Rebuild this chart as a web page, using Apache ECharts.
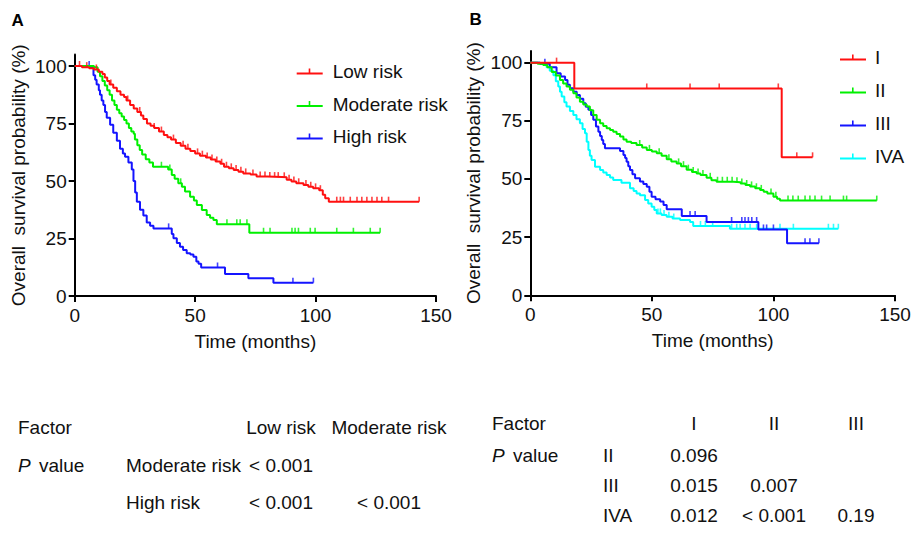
<!DOCTYPE html>
<html>
<head>
<meta charset="utf-8">
<title>Overall survival</title>
<script src="https://cdn.jsdelivr.net/npm/echarts@6/dist/echarts.min.js"></script>
<style>
  html, body { margin: 0; padding: 0; background: #fff; }
  #chart { width: 912px; height: 533px; }
</style>
</head>
<body>
<div id="chart"></div>
<script>
// ---- panel A : risk groups (time in months, survival in %) ----
var lowRiskTime = [0, 3, 6, 8, 10, 11.5, 12.5, 13.5, 14.5, 16, 17.5, 19, 20.5, 21.5, 23, 24.5, 26, 27.5, 28.5, 30,
  31.5, 33, 35, 37, 38.5, 40, 42, 44, 46, 48, 50, 52, 54.5, 56.5, 58.5, 60.5, 62, 64, 66, 68, 70, 73, 75.5, 80,
  86, 88, 90, 92, 95, 97, 99, 101.5, 103, 104, 105.5, 143];
var lowRiskSurv = [100, 99.5, 99, 98.5, 97.5, 96.5, 95, 93.5, 92, 90.5, 89, 87.5, 86.5, 85, 83, 81.5, 80, 78.5, 77, 75,
  74, 73, 71.5, 70, 69, 68, 66.5, 65.3, 64, 63, 62, 61, 60.2, 59.3, 58.5, 57.5, 56.2, 55.5, 54.8, 54, 53.3, 52.8, 52, 51.7,
  51.6, 50.5, 49.8, 49, 48.3, 47.5, 46.8, 46, 44, 42.5, 41, 41];
var lowRiskCensor = [2, 5, 9, 15, 22, 27, 33, 36, 41, 45, 47, 51, 53, 55, 57, 59, 61, 63, 65, 67, 69, 71, 74, 77, 79,
  81, 83, 84.5, 87, 89, 91, 93, 96, 98, 100, 102, 108.8, 110.3, 111.6, 114.4, 117.2, 119.2, 121.3, 123.4, 125.5,
  127.5, 130.3, 143];

var modRiskTime = [0, 8, 9.5, 10.5, 11.5, 12.5, 13.5, 14.5, 15.5, 16.5, 17.5, 18.5, 19.5, 20.5, 21.5, 22.5, 23.5, 24.5,
  25, 26, 27, 28, 29.5, 31, 32.5, 38.8, 40.3, 41.5, 43, 44.5, 45.8, 47.9, 49.5, 50.7, 52.8, 54.8, 56.2, 57.6, 59,
  72.5, 126.8];
var modRiskSurv = [100, 99.5, 97.5, 95.5, 93.5, 91.5, 89.5, 87.5, 85, 83, 81, 79.5, 78, 76.5, 75, 73, 71.5, 70.5,
  68, 65.5, 63.5, 61.5, 59.5, 58, 56.2, 55, 52.6, 51, 49, 47.5, 45.4, 43.2, 41.5, 39.6, 37.4, 35.2, 34, 33, 31.2,
  27.5, 27.5];
var modRiskCensor = [36, 39.5, 44, 63.2, 67.3, 68.7, 71.5, 78.4, 81.1, 90.2, 91.5, 92.9, 97.8, 99.8, 108.8, 115.7,
  122.7, 126.8];

var highRiskTime = [0, 6.4, 7.8, 8.5, 9.1, 10, 10.5, 11.2, 11.9, 12.6, 13.3, 14.7, 16, 17.5, 18.8, 20, 20.9, 22.3,
  23.7, 24.4, 25.1, 25.8, 27.1, 28.5, 29.9, 31.3, 32.7, 40.3, 41, 42.4, 43.7, 45, 46.5, 48, 49.3, 50.5, 51.4, 52.5,
  62.4, 72.1, 82.5, 99.1];
var highRiskSurv = [100, 99.5, 96, 94, 92, 89.5, 87.5, 85, 83, 80, 77.5, 74.5, 71, 67.5, 64, 62, 60.5, 58,
  55, 50, 45, 41, 37.5, 35, 32, 30.5, 29.4, 27, 25.1, 23, 21.4, 20, 18.6, 18, 17.1, 15, 14, 12.4,
  9.6, 7.7, 5.8, 5.8];
var highRiskCensor = [6, 39, 59.3, 90.6, 99.1];

// ---- panel B : stages ----
var stage1Time = [0, 18.1, 103.4, 116.1];
var stage1Surv = [100, 88.9, 59.3, 59.3];
var stage1Censor = [10.8, 47.9, 65.7, 77.7, 102, 109.6, 116.1];

var stage2Time = [0, 3, 5.3, 7, 8.8, 10.5, 12.2, 13.5, 14.9, 16.3, 17.7, 19, 20.4, 21.8, 23.2, 24.5, 25.9, 27.3,
  28.7, 30, 31.4, 32.8, 34.1, 35.5, 36.9, 38.3, 39.6, 41.5, 43.7, 46, 47.9, 50, 52, 54, 56.1, 58, 60.2, 62, 64.3,
  66.5, 68.4, 70, 72.5, 74.5, 76.6, 83.5, 86.5, 88.5, 90.4, 92.5, 94.5, 96, 97.5, 100, 101.5, 102.7, 142.5];
var stage2Surv = [100, 99.5, 99, 98, 96, 94.5, 92.5, 91, 89.7, 88.3, 86.8, 85, 83.2, 82, 81.1, 79.5, 77.5, 75.5,
  73.9, 72.8, 71.8, 71, 70.3, 69.3, 68.2, 67, 66, 65.5, 64.6, 63.5, 62.5, 61.8, 61, 60, 58.5, 57.5, 56.7, 55.5, 54,
  53, 52.4, 51.7, 50.5, 49.5, 48.8, 48.6, 48, 47.4, 46.8, 46, 45.3, 44.5, 43.8, 42.4, 41.5, 40.7, 40.7];
var stage2Censor = [45, 49, 53, 57, 61, 63, 65, 67, 69, 71, 74, 77, 79, 81, 83, 85, 87, 89, 91, 93, 95, 99, 101,
  106, 108, 110.2, 113, 115, 117.1, 119.8, 123.3, 128.8, 130.1, 142.5];

var stage3Time = [0, 4, 8, 10.8, 12.5, 14.3, 15.3, 16.3, 17.7, 19.1, 20.4, 21.8, 22.8, 23.9, 25, 25.9, 27, 28, 28.7,
  29.4, 30, 30.7, 36.9, 38.3, 39, 39.6, 40.3, 41, 42, 43.1, 45.1, 46.5, 47.9, 49, 49.9, 51.5, 53.4, 54.8, 56.1,
  62.3, 72.5, 93.8, 105.6, 118.7];
var stage3Surv = [100, 99.5, 98, 95.4, 94, 92.5, 90.5, 89, 87.5, 86.1, 84.5, 82.5, 81, 79.7, 77.5, 75.4, 72.5, 70.3, 68.5,
  66.8, 65, 63.2, 62, 60.3, 59, 57.4, 55.5, 53.9, 52, 50.3, 48.9, 47.8, 46.7, 44.5, 42.4, 41.3, 40.3, 38.8, 37,
  34.1, 31.5, 28.3, 22.4, 22.4];
var stage3Censor = [6, 65.7, 67.8, 82.8, 87, 88.3, 89.7, 91.1, 93.1, 95.9, 97.2, 100, 113, 115, 118.7];

var stage4Time = [0, 4, 6.7, 8, 9.5, 10.5, 11.5, 12.2, 12.9, 14, 14.9, 16.3, 17.7, 19, 20.4, 21.5, 22.5, 23.2, 23.9,
  24.5, 25.2, 26.6, 28.7, 30, 31.4, 32.8, 34.1, 37.5, 41, 42.5, 43.7, 45.1, 47.2, 48.5, 49.9, 51, 52, 54, 56.1,
  58.5, 61.6, 65.7, 67, 82.1, 126.7];
var stage4Surv = [100, 99.5, 98, 96.5, 94.6, 92, 89.7, 87.5, 85.4, 83, 81.1, 79.2, 77.5, 75.7, 73.9, 71.5, 69.6, 66, 62.5,
  60, 58.2, 55.3, 53.9, 52.8, 51.7, 50.6, 49.6, 48.4, 46, 44.8, 43.8, 43, 41, 39.5, 38.1, 36.7, 35.2, 34.5, 33.8,
  33, 32.4, 31.5, 29.8, 28.6, 28.6];
var stage4Censor = [52.5, 53.5, 55, 57, 59, 70, 72, 75, 82.8, 84.9, 86.3, 88.3, 90.4, 93.1, 102.7, 108.2, 122.6,
  124.7, 126.7];

// ---- axes and tables ----
var xTicks = [0, 50, 100, 150];
var yTicks = [0, 25, 50, 75, 100];

var tableACols = ['Low risk', 'Moderate risk'];
var tableARows = ['Moderate risk', 'High risk'];
var tableAValues = [['< 0.001', ''], ['< 0.001', '< 0.001']];

var tableBCols = ['I', 'II', 'III'];
var tableBRows = ['II', 'III', 'IVA'];
var tableBValues = [['0.096', '', ''], ['0.015', '0.007', ''], ['0.012', '< 0.001', '0.19']];

var FONT = '"Liberation Sans", Arial, Helvetica, sans-serif';
var TXT = '#111';

function survAt(time, surv, t) {
  var s = surv[0];
  for (var i = 0; i < time.length; i++) {
    if (time[i] <= t) s = surv[i];
  }
  return s;
}

function zip(a, b) {
  return a.map(function (v, i) { return [v, b[i]]; });
}

// one KM curve = step line + scatter of censor ticks
function kmSeries(name, color, time, surv, censor, idx, z) {
  return [{
    name: name,
    type: 'line',
    step: 'end',
    xAxisIndex: idx,
    yAxisIndex: idx,
    data: zip(time, surv),
    showSymbol: false,
    symbol: 'none',
    color: color,
    lineStyle: { color: color, width: 2 },
    z: z,
    silent: true
  }, {
    name: name,
    type: 'scatter',
    xAxisIndex: idx,
    yAxisIndex: idx,
    data: censor.map(function (t) { return [t, survAt(time, surv, t)]; }),
    symbol: 'rect',
    symbolSize: [1.6, 5],
    symbolOffset: [0, -2.5],
    itemStyle: { color: color },
    z: z,
    silent: true
  }];
}

function xAxisOpt(idx) {
  return {
    type: 'value',
    gridIndex: idx,
    min: 0,
    max: 150,
    interval: 50,
    name: 'Time (months)',
    nameLocation: 'middle',
    nameGap: 36,
    nameTextStyle: { fontSize: 19, fontFamily: FONT, color: TXT },
    axisLine: { lineStyle: { color: '#000', width: 2 } },
    axisTick: { length: 6, lineStyle: { color: '#000', width: 2 }, customValues: xTicks },
    axisLabel: { fontSize: 19, fontFamily: FONT, color: TXT, margin: 10, customValues: xTicks },
    splitLine: { show: false }
  };
}

function yAxisOpt(idx) {
  return {
    type: 'value',
    gridIndex: idx,
    min: 0,
    max: 105,
    name: 'Overall  survival probability (%)',
    nameLocation: 'middle',
    nameGap: 47,
    nameTextStyle: { fontSize: 19, fontFamily: FONT, color: TXT },
    axisLine: { lineStyle: { color: '#000', width: 2 } },
    axisTick: { length: 6, lineStyle: { color: '#000', width: 2 }, customValues: yTicks },
    axisLabel: { fontSize: 19, fontFamily: FONT, color: TXT, margin: 8, customValues: yTicks },
    splitLine: { show: false }
  };
}

function txt(text, x, y, align, extra) {
  var style = {
    text: text, x: x, y: y,
    fill: TXT, fontSize: 19, fontFamily: FONT,
    align: align || 'left', verticalAlign: 'middle'
  };
  if (extra) for (var k in extra) style[k] = extra[k];
  return { type: 'text', style: style };
}

// table below a panel; positions are layout only
function buildTable(cols, rows, values, lay) {
  var els = [];
  els.push(txt('Factor', lay.left, lay.rowY[0]));
  els.push(txt('P', lay.left, lay.rowY[1], 'left', { fontStyle: 'italic' }));
  els.push(txt('value', lay.left + 21, lay.rowY[1]));
  cols.forEach(function (c, j) {
    els.push(txt(c, lay.colX[j], lay.rowY[0], 'center'));
  });
  rows.forEach(function (r, i) {
    els.push(txt(r, lay.rowLabelX, lay.rowY[i + 1]));
    values[i].forEach(function (v, j) {
      if (v) els.push(txt(v, lay.colX[j], lay.rowY[i + 1], 'center'));
    });
  });
  return els;
}

var legendIcon = 'path://M0,4L26,4L26,6L0,6Z M12,0L13.6,0L13.6,4L12,4Z';

var series = []
  .concat(kmSeries('High risk', '#1414ff', highRiskTime, highRiskSurv, highRiskCensor, 0, 2))
  .concat(kmSeries('Moderate risk', '#00f000', modRiskTime, modRiskSurv, modRiskCensor, 0, 3))
  .concat(kmSeries('Low risk', '#ff1010', lowRiskTime, lowRiskSurv, lowRiskCensor, 0, 4))
  .concat(kmSeries('IVA', '#00ffff', stage4Time, stage4Surv, stage4Censor, 1, 2))
  .concat(kmSeries('III', '#1414ff', stage3Time, stage3Surv, stage3Censor, 1, 3))
  .concat(kmSeries('II', '#00f000', stage2Time, stage2Surv, stage2Censor, 1, 4))
  .concat(kmSeries('I', '#ff1010', stage1Time, stage1Surv, stage1Censor, 1, 5));

var graphics = [
  txt('A', 11.5, 20.5, 'left', { fontSize: 17, fontWeight: 'bold', fill: '#000' }),
  txt('B', 469.5, 19.5, 'left', { fontSize: 17, fontWeight: 'bold', fill: '#000' })
].concat(buildTable(tableACols, tableARows, tableAValues, {
  left: 18, rowLabelX: 126, colX: [281, 389], rowY: [427, 465, 502]
})).concat(buildTable(tableBCols, tableBRows, tableBValues, {
  left: 492, rowLabelX: 603, colX: [694, 774, 856], rowY: [423, 455, 485, 515]
}));

var chart = echarts.init(document.getElementById('chart'), null, { renderer: 'svg' });
chart.setOption({
  backgroundColor: '#fff',
  animation: false,
  textStyle: { fontFamily: FONT },
  grid: [
    { left: 74.7, top: 54.5, width: 361.3, height: 241.5, outerBoundsMode: 'none' },
    { left: 530.3, top: 51, width: 364.7, height: 244.3, outerBoundsMode: 'none' }
  ],
  xAxis: [xAxisOpt(0), xAxisOpt(1)],
  yAxis: [yAxisOpt(0), yAxisOpt(1)],
  legend: [{
    data: ['Low risk', 'Moderate risk', 'High risk'],
    orient: 'vertical',
    left: 291.7,
    top: 57,
    itemGap: 13.5,
    itemWidth: 26,
    itemHeight: 6,
    icon: legendIcon,
    itemStyle: { borderWidth: 0 },
    textStyle: { fontSize: 19, fontFamily: FONT, color: TXT, padding: [0, 0, 0, 5] },
    selectedMode: false
  }, {
    data: ['I', 'II', 'III', 'IVA'],
    orient: 'vertical',
    left: 835,
    top: 43,
    itemGap: 14,
    itemWidth: 26,
    itemHeight: 6,
    icon: legendIcon,
    itemStyle: { borderWidth: 0 },
    textStyle: { fontSize: 19, fontFamily: FONT, color: TXT, padding: [0, 0, 0, 4] },
    selectedMode: false
  }],
  graphic: graphics,
  series: series
});
</script>
</body>
</html>
